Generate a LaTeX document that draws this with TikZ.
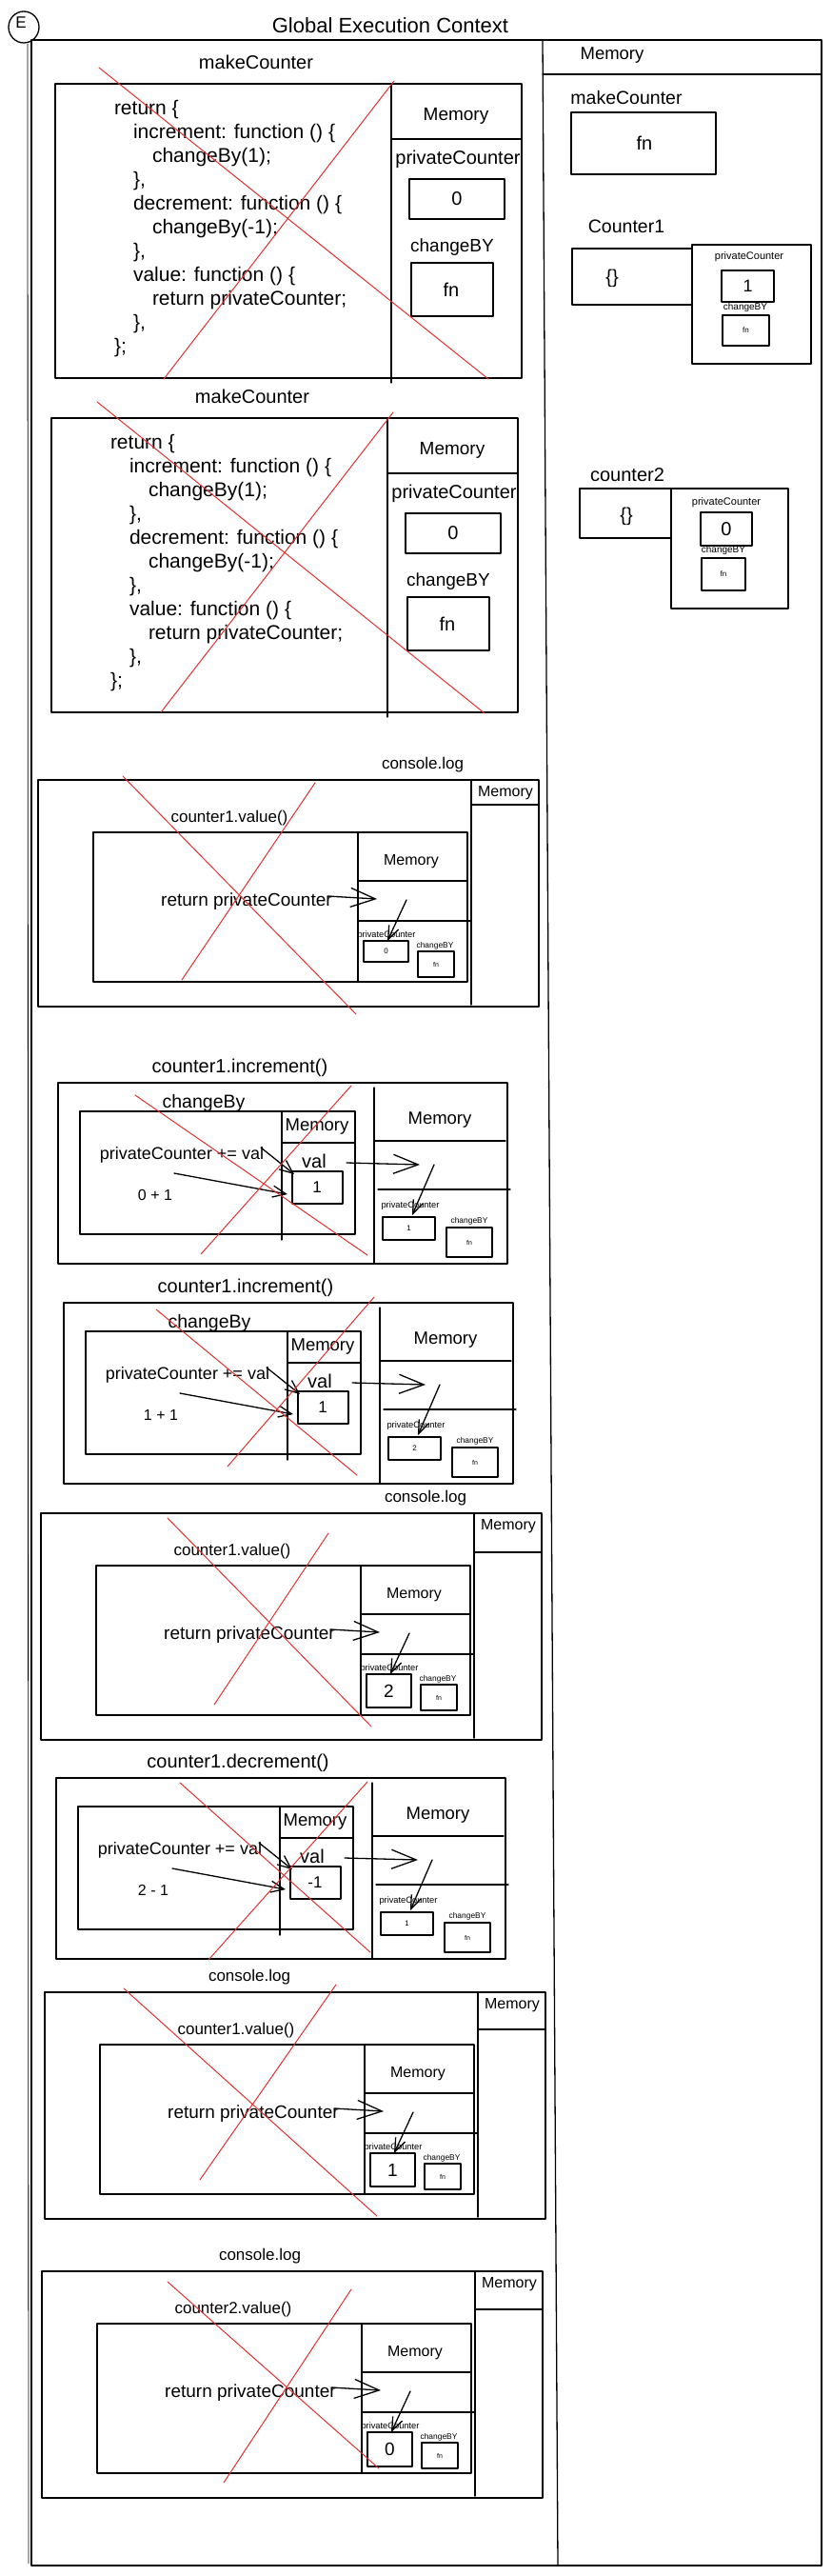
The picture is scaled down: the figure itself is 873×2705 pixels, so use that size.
\documentclass[tikz,border=0pt]{standalone}
\usepackage{fontspec}
\setmainfont{Liberation Sans}
\usetikzlibrary{arrows.meta}
\definecolor{xred}{RGB}{224,49,49}
\newcommand{\fs}[1]{\fontsize{#1}{#1}\selectfont}
\tikzset{
  ln/.style={line width=1.3pt, line cap=round, line join=round},
  txt/.style={inner sep=0pt, outer sep=0pt, text=black},
  cln/.style={txt, anchor=west, font=\fs{21}},
  redx/.style={draw=xred, line width=1pt, line cap=round},
  arrbig/.style={ln, -{Straight Barb[length=26pt,width=20pt]}},
  arrmid/.style={ln, -{Straight Barb[length=14pt,width=12pt]}},
  arrsm/.style={ln, -{Straight Barb[length=14pt,width=11pt]}},
}
% makeCounter section
\newcommand{\mksec}[3]{%
\begin{scope}[shift={(#2,#3)}]
  \node[txt,font=\fs{20}] (#1title) at (211,-23) {makeCounter};
  \draw[ln] (0,0) rectangle (490,309);
  \draw[ln] (353,0) -- (353,314);
  \node[txt,font=\fs{19}] (#1mem) at (421,34) {Memory};
  \draw[ln] (353,58) -- (490,58);
  \node[txt,font=\fs{20}] (#1pcl) at (423,79) {privateCounter};
  \draw[ln] (372,100) rectangle (472,142);
  \node[txt,font=\fs{20}] (#1pcv) at (422,121) {0};
  \node[txt,font=\fs{19}] (#1cbl) at (417,172) {changeBY};
  \draw[ln] (374,188) rectangle (460,244);
  \node[txt,font=\fs{20}] (#1fn) at (416,216) {fn};
  \node[cln] (#1c1) at (62,27) {return \{};
  \node[cln] (#1c2) at (82,52) {increment: function () \{};
  \node[cln] (#1c3) at (102,77) {changeBy(1);};
  \node[cln] (#1c4) at (82,102) {\},};
  \node[cln] (#1c5) at (82,127) {decrement: function () \{};
  \node[cln] (#1c6) at (102,152) {changeBy(-1);};
  \node[cln] (#1c7) at (82,177) {\},};
  \node[cln] (#1c8) at (82,202) {value: function () \{};
  \node[cln] (#1c9) at (102,227) {return privateCounter;};
  \node[cln] (#1c10) at (82,252) {\},};
  \node[cln] (#1c11) at (62,277) {\};};
\end{scope}}
% console.log section
\newcommand{\logsec}[9]{%
\begin{scope}[shift={(#2,#3)}]
  \node[txt,font=\fs{17}] (#1title) at (#4,-16) {console.log};
  \draw[ln] (0,0) rectangle (526,238);
  \draw[ln] (455,0) -- (455,236);
  \node[txt,font=\fs{16}] (#1mem) at (491,14) {Memory};
  \draw[ln] (455,#9) -- (526,#9);
  \node[txt,font=\fs{17}] (#1call) at (201,40) {#5};
  \draw[ln] (58,55) rectangle (451,212);
  \draw[ln] (336,55) -- (336,212);
  \node[txt,font=\fs{16}] (#1imem) at (392,86) {Memory};
  \draw[ln] (336,106) -- (451,106);
  \draw[ln] (336,148) -- (454,148);
  \node[txt,font=\fs{19}] (#1ret) at (219,128) {return privateCounter};
  \coordinate (#1a1s) at (304,122);
  \coordinate (#1a1e) at (356,125);
  \draw[arrbig] (#1a1s) -- (#1a1e);
  \coordinate (#1a2s) at (387,126);
  \coordinate (#1a2e) at (367,169);
  \draw[arrsm] (#1a2s) -- (#1a2e);
  \node[txt,font=\fs{9.3}] (#1pcl) at (366,163) {privateCounter};
  \draw[ln] (342,169) rectangle (389,#8);
  \node[txt,font=\fs{#7}] (#1pcv) at (365.5,{(169+#8)/2}) {#6};
  \node[txt,font=\fs{8.4}] (#1cbl) at (417,174) {changeBY};
  \draw[ln] (399,180) rectangle (437,207);
  \node[txt,font=\fs{7}] (#1fn) at (418,193.5) {fn};
\end{scope}}
% call section
\newcommand{\callsec}[8]{%
\begin{scope}[shift={(#2,#3)}]
  \node[txt,font=\fs{20}] (#1title) at (191,-16) {#4};
  \draw[ln] (0,0) rectangle (472,190);
  \draw[ln] (332,5) -- (332,190);
  \node[txt,font=\fs{18.5}] (#1mem) at (401,39) {Memory};
  \draw[ln] (332,61) -- (470,61);
  \draw[ln] (336,112) -- (475,112);
  \node[txt,font=\fs{19.5}] (#1cb) at (153,21) {#5};
  \draw[ln] (23,30) rectangle (312,159);
  \draw[ln] (235,30) -- (235,165);
  \node[txt,font=\fs{18.5}] (#1imem) at (272,46) {Memory};
  \draw[ln] (235,63) -- (312,63);
  \node[txt,font=\fs{18}] (#1pc) at (130,76) {privateCounter += val};
  \node[txt,font=\fs{20}] (#1val) at (269,82) {val};
  \draw[ln] (246,93) rectangle (299,127);
  \node[txt,font=\fs{17}] (#1vv) at (272,110) {#7};
  \node[txt,font=\fs{16}] (#1expr) at (102,118) {#6};
  \coordinate (#1a1s) at (213,68);
  \coordinate (#1a1e) at (248,96);
  \draw[arrmid] (#1a1s) -- (#1a1e);
  \coordinate (#1a2s) at (122,95);
  \coordinate (#1a2e) at (241,117);
  \draw[arrmid] (#1a2s) -- (#1a2e);
  \coordinate (#1a3s) at (303,84);
  \coordinate (#1a3e) at (380,86);
  \draw[arrbig] (#1a3s) -- (#1a3e);
  \coordinate (#1a4s) at (395,86);
  \coordinate (#1a4e) at (372,139);
  \draw[arrsm] (#1a4s) -- (#1a4e);
  \node[txt,font=\fs{9.3}] (#1pcl) at (370,129) {privateCounter};
  \draw[ln] (341,141) rectangle (396,165);
  \node[txt,font=\fs{8}] (#1pcv) at (368.5,153) {#8};
  \node[txt,font=\fs{8.4}] (#1cbl) at (432,145) {changeBY};
  \draw[ln] (408,152) rectangle (456,183);
  \node[txt,font=\fs{7}] (#1fn) at (432,168) {fn};
\end{scope}}
\begin{document}
\begin{tikzpicture}[x=1pt,y=-1pt]
\useasboundingbox (0,0) rectangle (873,2705);
\fill[white] (0,0) rectangle (873,2705);
% E badge and title
\draw[ln] (25,28.5) ellipse [x radius=16, y radius=16.5];
\node[txt,font=\fs{17}] (badge) at (22,24) {E};
\node[txt,font=\fs{22}] (gtitle) at (410,27) {Global Execution Context};
% outer frame
\draw[ln] (33,42) rectangle (863,2694);
\draw[line width=0.8pt] (29,46) -- (30,2692);
\draw[ln] (570,42) -- (586,2694);
% right column memory
\node[txt,font=\fs{18.5}] (rmem) at (643,58) {Memory};
\draw[ln] (570,78) -- (863,78);
\node[txt,font=\fs{19.5}] (rmk) at (658,103) {makeCounter};
\draw[ln] (600,118) rectangle (752,183);
\node[txt,font=\fs{20}] (rmkfn) at (677,150) {fn};
\node[txt,font=\fs{19.5}] (rc1) at (658,238) {Counter1};
\draw[ln] (601,261) rectangle (727,320);
\node[txt,font=\fs{20}] (rc1obj) at (643,292) {\{\}};
\draw[ln] (727,257) rectangle (852,382);
\node[txt,font=\fs{11}] (rc1pcl) at (787,270) {privateCounter};
\draw[ln] (758,284) rectangle (813,317);
\node[txt,font=\fs{18}] (rc1pcv) at (785.5,300.5) {1};
\node[txt,font=\fs{10}] (rc1cbl) at (783,323) {changeBY};
\draw[ln] (759,331) rectangle (808,363);
\node[txt,font=\fs{8}] (rc1fn) at (783.5,347) {fn};
\node[txt,font=\fs{20}] (rc2) at (659,499) {counter2};
\draw[ln] (609,513) rectangle (705,565);
\node[txt,font=\fs{20}] (rc2obj) at (658,542) {\{\}};
\draw[ln] (705,513) rectangle (828,639);
\node[txt,font=\fs{11}] (rc2pcl) at (763,528) {privateCounter};
\draw[ln] (736,538) rectangle (790,573);
\node[txt,font=\fs{20}] (rc2pcv) at (763,555.5) {0};
\node[txt,font=\fs{10}] (rc2cbl) at (760,578) {changeBY};
\draw[ln] (737,586) rectangle (783,620);
\node[txt,font=\fs{8}] (rc2fn) at (760,603) {fn};
% left column sections
\mksec{sa}{58}{88}
\mksec{sb}{54}{439}
\logsec{sc}{40}{819}{404}{counter1.value()}{0}{8}{191}{26}
\callsec{sd}{61}{1137}{counter1.increment()}{changeBy}{0 + 1}{1}{1}
\callsec{se}{67}{1368}{counter1.increment()}{changeBy}{1 + 1}{1}{2}
\logsec{sf}{43}{1589}{404}{counter1.value()}{2}{19}{204}{41}
\callsec{sg}{59}{1867}{counter1.decrement()}{}{2 - 1}{-1}{1}
\logsec{sh}{47}{2092}{215}{counter1.value()}{1}{19}{204}{39}
\logsec{si}{44}{2385}{229}{counter2.value()}{0}{19}{205}{40}
% red crosses
\draw[redx] (104,71) -- (513,398);  \draw[redx] (414,85) -- (172,398);
\draw[redx] (102,422) -- (509,749); \draw[redx] (413,433) -- (169,748);
\draw[redx] (129,815) -- (374,1065); \draw[redx] (331,822) -- (191,1029);
\draw[redx] (142,1150) -- (386,1318); \draw[redx] (369,1140) -- (211,1317);
\draw[redx] (164,1375) -- (375,1549); \draw[redx] (393,1362) -- (239,1540);
\draw[redx] (176,1594) -- (390,1813); \draw[redx] (345,1610) -- (225,1790);
\draw[redx] (189,1872) -- (389,2050); \draw[redx] (386,1871) -- (219,2058);
\draw[redx] (130,2088) -- (396,2327); \draw[redx] (353,2084) -- (210,2289);
\draw[redx] (176,2396) -- (398,2592); \draw[redx] (369,2404) -- (235,2607);
\end{tikzpicture}
\end{document}
